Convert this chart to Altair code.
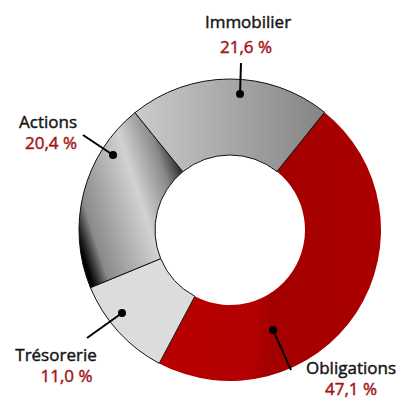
import math
import altair as alt
import pandas as pd

# ---- data ----
categories = ["Obligations", "Trésorerie", "Actions", "Immobilier"]
shares = [47.1, 11.0, 20.4, 21.6]
share_labels = [f"{v:.1f}".replace(".", ",") + " %" for v in shares]

# ---- layout (plot-area pixels) ----
CX, CY = 222, 222
R_OUT, R_IN = 151, 75
START = math.radians(38.4)

ends = []
acc = 0.0
for v in shares:
    acc += v
    ends.append(acc)
starts = [e - v for e, v in zip(ends, shares)]
df = pd.DataFrame({"cat": categories, "share": shares, "start": starts, "end": ends})

theta_scale = alt.Scale(domain=[0, 100], range=[START, START + 2 * math.pi])

fills = {
    "Obligations": {"gradient": "linear", "x1": 0, "y1": 0.5, "x2": 1, "y2": 0.6,
                    "stops": [{"offset": 0, "color": "#b80000"},
                              {"offset": 0.46, "color": "#b30000"},
                              {"offset": 0.52, "color": "#a40000"},
                              {"offset": 1, "color": "#ab0000"}]},
    "Trésorerie": "#dcdcdc",
    "Actions": {"gradient": "linear", "x1": 0, "y1": 0.75, "x2": 1, "y2": 0.2,
                "stops": [{"offset": 0, "color": "#000000"},
                          {"offset": 0.04, "color": "#262626"},
                          {"offset": 0.13, "color": "#8a8a8a"},
                          {"offset": 0.56, "color": "#d2d2d2"},
                          {"offset": 0.8, "color": "#8a8a8a"},
                          {"offset": 1, "color": "#000000"}]},
    "Immobilier": {"gradient": "linear", "x1": 0, "y1": 0.5, "x2": 1, "y2": 0.5,
                   "stops": [{"offset": 0, "color": "#cbcbcb"},
                             {"offset": 1, "color": "#848484"}]},
}

layers = []
for c in categories:
    kw = dict(radius=R_OUT, radius2=R_IN, fill=fills[c])
    if c != "Obligations":
        kw.update(stroke="#111111", strokeWidth=1)
    layers.append(
        alt.Chart(df).transform_filter(alt.datum.cat == c).mark_arc(**kw).encode(
            theta=alt.Theta("start:Q", scale=theta_scale),
            theta2="end:Q",
            x=alt.value(CX),
            y=alt.value(CY),
        )
    )

# ---- annotations (layout) ----
ann = pd.DataFrame({
    "cat": categories,
    "pct": share_labels,
    "dx": [265, 114, 105, 232],
    "dy": [322, 305, 147, 86],
    "lx": [283, 79, 75, 233],
    "ly": [362, 330, 127, 55],
    "nx": [343, 48, 69, 240],
    "ny": [366, 353, 120, 20],
    "px": [343, 58.5, 69, 238],
    "py": [387, 374, 141, 45],
})

base = alt.Chart(ann)
lines = base.mark_rule(color="#000000", strokeWidth=2).encode(
    x=alt.X("dx:Q", scale=None), y=alt.Y("dy:Q", scale=None),
    x2="lx:Q", y2="ly:Q")
dots = base.mark_circle(color="#000000", opacity=1, size=64).encode(
    x=alt.X("dx:Q", scale=None), y=alt.Y("dy:Q", scale=None))

FONT = "Open Sans"
FS = 17
DARK = "#151515"
RED = "#a31414"


def txt(cond, align, color, xf, yf, tf):
    return base.transform_filter(cond).mark_text(
        font=FONT, fontSize=FS, color=color, stroke=color, strokeWidth=0.45,
        align=align, baseline="alphabetic").encode(
        x=alt.X(f"{xf}:Q", scale=None), y=alt.Y(f"{yf}:Q", scale=None), text=f"{tf}:N")


names_c = txt(alt.datum.cat != "Actions", "center", DARK, "nx", "ny", "cat")
names_r = txt(alt.datum.cat == "Actions", "right", DARK, "nx", "ny", "cat")
pct_c = txt(alt.datum.cat != "Actions", "center", RED, "px", "py", "pct")
pct_r = txt(alt.datum.cat == "Actions", "right", RED, "px", "py", "pct")

chart = alt.layer(*layers, lines, dots, names_c, names_r, pct_c, pct_r).properties(
    width=390, height=392, padding=0,
    autosize=alt.AutoSizeParams(type="none"),
).configure_view(stroke=None)

chart.save("out.html", embed_options={"renderer": "svg", "actions": False})
